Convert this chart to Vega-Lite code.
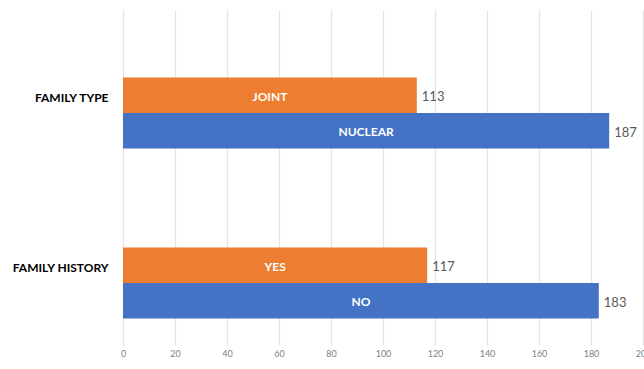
{
  "$schema": "https://vega.github.io/schema/vega-lite/v6.json",
  "width": 520,
  "height": 335,
  "autosize": {"type": "none"},
  "padding": {"left": 123, "top": 10, "right": 1, "bottom": 24},
  "background": "white",
  "config": {"view": {"stroke": null}, "font": "Lato"},
  "data": {"values": [
    {"group": "FAMILY TYPE", "item": "JOINT", "pos": "1", "count": 113},
    {"group": "FAMILY TYPE", "item": "NUCLEAR", "pos": "2", "count": 187},
    {"group": "FAMILY HISTORY", "item": "YES", "pos": "1", "count": 117},
    {"group": "FAMILY HISTORY", "item": "NO", "pos": "2", "count": 183}
  ]},
  "encoding": {
    "y": {
      "field": "group", "type": "nominal",
      "sort": ["FAMILY TYPE", "FAMILY HISTORY"],
      "scale": {"paddingInner": 0.5824, "paddingOuter": 0.2765, "align": 0.718},
      "axis": {"title": null, "domain": false, "ticks": false, "labelFontWeight": "bold", "labelFontSize": 12, "labelColor": "#000000", "labelPadding": 15, "labelOffset": -15, "labelFont": "Lato"}
    },
    "yOffset": {"field": "pos", "type": "nominal", "sort": ["1", "2"], "scale": {"paddingInner": 0, "paddingOuter": 0}}
  },
  "layer": [
    {
      "mark": {"type": "bar"},
      "encoding": {
        "x": {
          "field": "count", "type": "quantitative",
          "scale": {"domain": [0, 200], "nice": false},
          "axis": {"title": null, "values": [0,20,40,60,80,100,120,140,160,180,200], "grid": true, "gridColor": "#e4e4e4", "gridWidth": 1.3, "domain": false, "ticks": false, "labelFontSize": 9, "labelColor": "#7f7f7f", "labelPadding": 4, "labelFlush": false, "labelOverlap": false, "labelBound": false}
        },
        "color": {"field": "pos", "type": "nominal", "scale": {"domain": ["1", "2"], "range": ["#ED7D31", "#4472C4"]}, "legend": null}
      }
    },
    {
      "transform": [{"calculate": "datum.count / 2", "as": "mid"}],
      "mark": {"type": "text", "color": "white", "fontWeight": "bold", "fontSize": 12, "dy": 1.5, "align": "center"},
      "encoding": {
        "x": {"field": "mid", "type": "quantitative"},
        "text": {"field": "item"}
      }
    },
    {
      "mark": {"type": "text", "color": "#595959", "fontSize": 13, "align": "left", "dx": 5, "dy": 2},
      "encoding": {
        "x": {"field": "count", "type": "quantitative"},
        "text": {"field": "count"}
      }
    }
  ]
}
